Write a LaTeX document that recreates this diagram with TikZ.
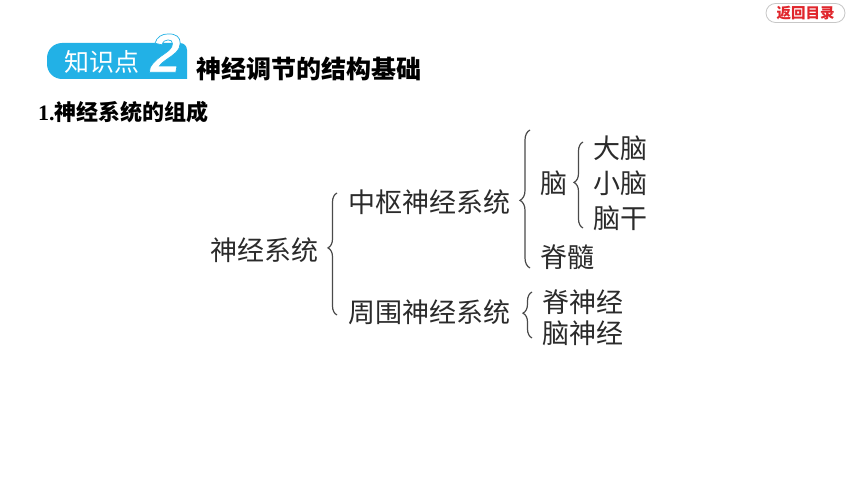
\documentclass[tikz,border=0pt]{standalone}
\usepackage{fontspec}
\setmainfont{Liberation Serif}
\newfontfamily\cjk{Noto Sans CJK SC}
\newfontfamily\numfont{Liberation Sans}
\usetikzlibrary{decorations.pathreplacing}
\definecolor{badgeblue}{HTML}{22B1E6}
\definecolor{btnred}{HTML}{E0262C}
\definecolor{txt}{HTML}{2B2B2B}
\definecolor{brc}{HTML}{4A4A4A}
\tikzset{
  lbl/.style={anchor=west, inner sep=0pt, text=txt, font=\cjk\fontsize{27}{30}\selectfont},
  brc/.style={draw=brc, line width=1.2pt, decorate, decoration={brace, amplitude=#1}},
  brc/.default=8pt
}
\begin{document}
\begin{tikzpicture}[x=1pt,y=-1pt]
\useasboundingbox[fill=white] (0,0) rectangle (860,484);

% return button
\node (ret) [draw=black!22, line width=0.8pt, fill=white, rounded corners=9.5pt,
  minimum width=79pt, minimum height=19pt, inner sep=0pt,
  text=btnred, font=\cjk\bfseries\fontsize{14.5}{16}\selectfont] at (805.5,13) {返回目录};

% badge
\fill[badgeblue, rounded corners=15pt] (47,79) -- (47,43) -- (120,43) [rounded corners=7pt] -- (187,43) [sharp corners] -- (187,79) [rounded corners=15pt] -- cycle;
\node (kp) [anchor=center, inner sep=0pt, text=white, font=\cjk\fontsize{25}{27}\selectfont] at (102,62) {知识点};
\node (two) [anchor=south west, inner sep=0pt, text=white, font=\numfont\bfseries\itshape\fontsize{55}{55}\selectfont] at (150,72.5)
  {\special{pdf:literal direct 0.133 0.694 0.902 RG 2 Tr 0.7 w}2\special{pdf:literal direct 0 Tr 1 w}};

% titles
\node (title) [anchor=west, inner sep=0pt, text=black, font=\cjk\bfseries\fontsize{25}{28}\selectfont] at (196,69) {神经调节的结构基础};
\node (sub) [anchor=west, inner sep=0pt, text=black] at (38,112)
  {{\bfseries\fontsize{22}{24}\selectfont 1.}{\cjk\bfseries\fontsize{22}{24}\selectfont 神经系统的组成}};

% diagram text
\node (ns)  [lbl] at (210,250) {神经系统};
\node (cns) [lbl] at (348,202) {中枢神经系统};
\node (pns) [lbl] at (348,312) {周围神经系统};
\node (nao) [lbl] at (540,183) {脑};
\node (dn)  [lbl] at (593,148) {大脑};
\node (xn)  [lbl] at (593,183) {小脑};
\node (ng)  [lbl] at (593,218) {脑干};
\node (js)  [lbl] at (540,257) {脊髓};
\node (jsj) [lbl] at (542,302) {脊神经};
\node (nsj) [lbl] at (542,333) {脑神经};

% braces
\coordinate (b1t) at (337,193); \coordinate (b1b) at (337,315);
\coordinate (b2t) at (530,130); \coordinate (b2b) at (530,268);
\coordinate (b3t) at (583,142); \coordinate (b3b) at (583,228);
\coordinate (b4t) at (532,292); \coordinate (b4b) at (532,338);
\draw[brc=9pt, decoration={aspect=0.55}] (b1b) -- (b1t);
\draw[brc=10pt, decoration={aspect=0.49}] (b2b) -- (b2t);
\draw[brc=9pt, decoration={aspect=0.53}] (b3b) -- (b3t);
\draw[brc=9pt, decoration={aspect=0.54}] (b4b) -- (b4t);
\end{tikzpicture}
\end{document}
